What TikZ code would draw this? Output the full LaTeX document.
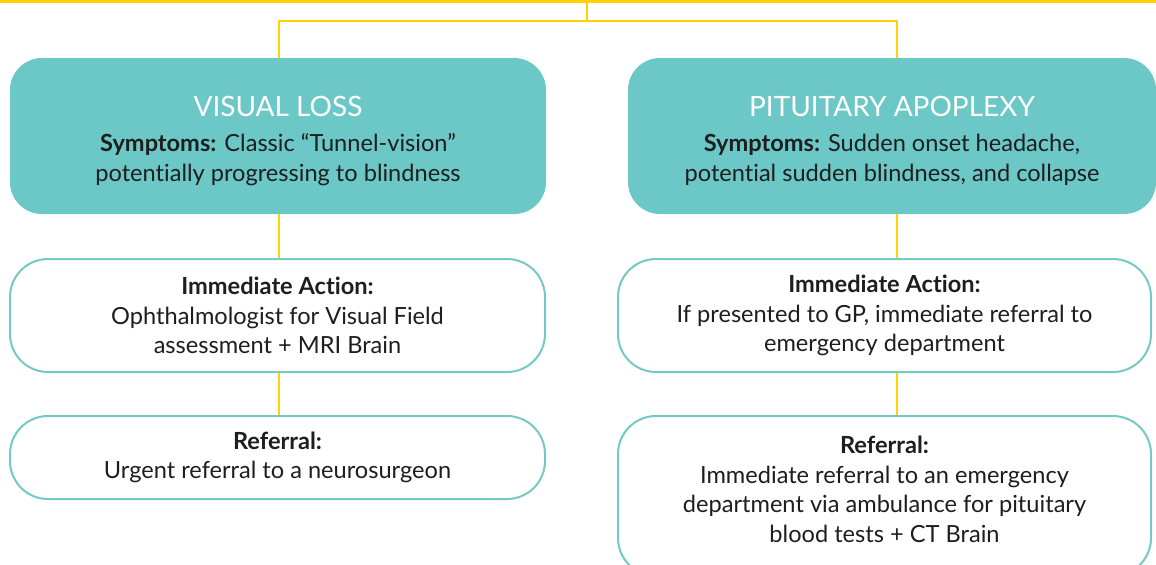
\documentclass[tikz,border=0pt]{standalone}
\usepackage{fontspec}
\setmainfont{Lato}[Ligatures={TeX,NoCommon}]
\usetikzlibrary{positioning}
\definecolor{tealfill}{HTML}{6CC8C6}
\definecolor{tealline}{HTML}{74C9C6}
\definecolor{linkyellow}{HTML}{FFD200}
\definecolor{textgrey}{HTML}{1E1E1E}

\begin{document}
\begin{tikzpicture}[
   x=0.5pt, y=-0.5pt,
   every node/.style = {align=center, inner sep=0pt, text=textgrey,
                        font=\fontsize{11.8}{14.75}\selectfont},
   headbox/.style = {rounded corners=16pt, fill=tealfill, minimum height=78pt},
   stepbox/.style = {rounded corners=19pt, draw=tealline, line width=1pt, fill=white},
   link/.style = {draw=linkyellow, line width=1pt},
   bus/.style = {draw=linkyellow, line width=1.5pt}]
   \useasboundingbox (0,0) rectangle (1156,564);

   \coordinate (busL) at (0,1.5);
   \coordinate (busR) at (1156,1.5);
   \coordinate (hub) at (587,0);
   \coordinate (split) at (587,21);
   \coordinate (spineL) at (279,0);
   \coordinate (spineR) at (897,0);

   \node[headbox, minimum width=268pt] (loss) at (278,136)
      {\rule{0pt}{6pt}\\[-6pt]{\fontsize{14}{16}\selectfont\color{white}VISUAL LOSS}\\[3pt]
       \textbf{Symptoms:} Classic “Tunnel-vision”\\
       potentially progressing to blindness};
   \node[headbox, minimum width=264pt] (apo) at (892,136)
      {\rule{0pt}{6pt}\\[-6pt]{\fontsize{14}{16}\selectfont\color{white}PITUITARY APOPLEXY}\\[3pt]
       \textbf{Symptoms:} Sudden onset headache,\\
       potential sudden blindness, and collapse};

   \node[stepbox, minimum width=267.5pt, minimum height=56.5pt] (lossact) at (277.5,315.5)
      {\textbf{Immediate Action:}\\
       Ophthalmologist for Visual Field\\
       assessment + MRI Brain};
   \node[stepbox, minimum width=267.5pt, minimum height=41.5pt] (lossref) at (277.5,457.5)
      {\textbf{Referral:}\\
       Urgent referral to a neurosurgeon};

   \node[stepbox, minimum width=266.5pt, minimum height=56.5pt] (apoact) at (884.5,315.5)
      {\textbf{Immediate Action:}\\
       If presented to GP, immediate referral to\\
       emergency department};
   \node[stepbox, minimum width=266.5pt, minimum height=80pt] (aporef) at (884.5,496)
      {\textbf{Referral:}\\
       Immediate referral to an emergency\\
       department via ambulance for pituitary\\
       blood tests + CT Brain\rule[-7pt]{0pt}{0pt}};

   \draw[bus] (busL) -- (busR);
   \draw[link] (hub) -- (split);
   \draw[link] (loss.north -| spineL) |- (split) -| (apo.north -| spineR);

   \draw[link] (loss.south -| spineL) -- (lossact.north -| spineL);
   \draw[link] (lossact.south -| spineL) -- (lossref.north -| spineL);

   \draw[link] (apo.south -| spineR) -- (apoact.north -| spineR);
   \draw[link] (apoact.south -| spineR) -- (aporef.north -| spineR);
\end{tikzpicture}
\end{document}
